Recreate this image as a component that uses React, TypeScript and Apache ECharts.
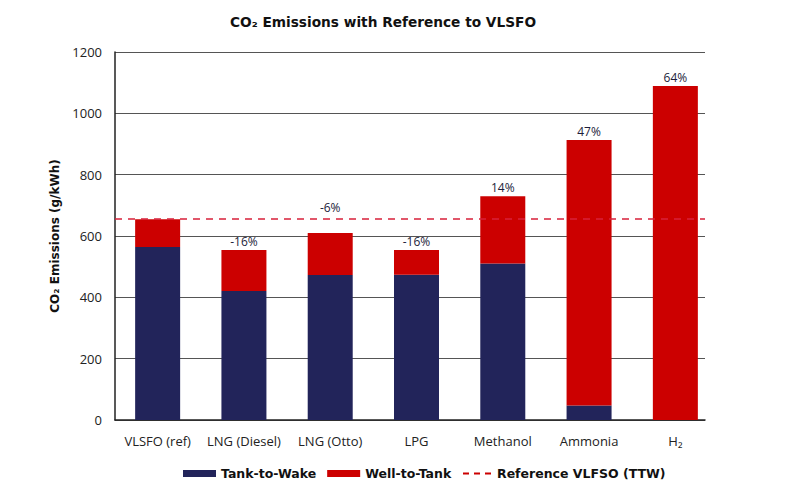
import React, { useEffect, useRef } from "react";
import * as echarts from "echarts";

const categories = ["VLSFO (ref)", "LNG (Diesel)", "LNG (Otto)", "LPG", "Methanol", "Ammonia", "H₂"];
const tankToWake = [564, 421, 473, 474, 510, 47, 0];
const wellToTank = [91, 133, 137, 80, 220, 866, 1089];
const changeLabels = ["", "-16%", "-6%", "-16%", "14%", "47%", "64%"];
const referenceTTW = 655;
const yTicks = { min: 0, max: 1200, interval: 200 };

const NAVY = "#22245a";
const RED = "#cc0000";
const FONT = "'Open Sans', 'Noto Sans', sans-serif";
const BOLD_FONT = "'DejaVu Sans', 'Open Sans', sans-serif";

export default function App() {
  const ref = useRef<HTMLDivElement>(null);
  useEffect(() => {
    if (!ref.current) return;
    const chart = echarts.init(ref.current, null, { renderer: "svg" });
    chart.setOption({
      animation: false,
      textStyle: { fontFamily: FONT },
      title: {
        text: "CO₂ Emissions with Reference to VLSFO",
        left: 378,
        top: 10,
        textAlign: "center",
        textStyle: { fontSize: 13.7, fontWeight: "bold", color: "#111", fontFamily: BOLD_FONT },
      },
      legend: [
        {
          data: ["Tank-to-Wake", "Well-to-Tank"],
          left: 178,
          top: 462,
          itemWidth: 33,
          itemHeight: 7,
          itemGap: 11,
          icon: "rect",
          textStyle: { fontSize: 12.5, fontWeight: "bold", color: "#111", fontFamily: BOLD_FONT },
        },
        {
          data: ["Reference VLFSO (TTW)"],
          left: 458,
          top: 462,
          itemWidth: 30,
          itemHeight: 2,
          icon: "path://M0,0H6V2H0Z M11,0H17V2H11Z M22,0H28V2H22Z",
          textStyle: { fontSize: 12.5, fontWeight: "bold", color: "#111", fontFamily: BOLD_FONT },
        },
      ],
      grid: [
        { left: 115, right: 80, top: 52, bottom: 72 },
        { left: 114.5, right: 66.5, top: 52, bottom: 72 },
      ],
      xAxis: [
        {
          type: "value",
          gridIndex: 0,
          min: 0,
          max: 1,
          axisLine: { show: true, lineStyle: { color: "#222", width: 1.5 } },
          axisTick: { show: false },
          axisLabel: { show: false },
          splitLine: { show: false },
        },
        {
          type: "category",
          gridIndex: 1,
          data: categories,
          axisLine: { show: false },
          axisTick: { show: false },
          axisLabel: { margin: 14, fontSize: 13, color: "#222", fontFamily: FONT, interval: 0 },
        },
      ],
      yAxis: [
        {
          type: "value",
          gridIndex: 0,
          ...yTicks,
          name: "CO₂ Emissions (g/kWh)",
          nameLocation: "middle",
          nameGap: 52,
          nameTextStyle: { fontSize: 12, fontWeight: "bold", color: "#111", fontFamily: BOLD_FONT },
          axisLine: { show: true, lineStyle: { color: "#222", width: 1.5 } },
          axisTick: { show: false },
          axisLabel: {
            margin: 13,
            fontSize: 13,
            color: "#222",
            fontFamily: FONT,
            formatter: (v: number) => String(v),
          },
          splitLine: { show: true, lineStyle: { color: "#555", width: 1 } },
        },
        {
          type: "value",
          gridIndex: 1,
          ...yTicks,
          show: false,
          splitLine: { show: false },
        },
      ],
      series: [
        {
          name: "Tank-to-Wake",
          type: "bar",
          xAxisIndex: 1,
          yAxisIndex: 1,
          stack: "total",
          barWidth: 45,
          data: tankToWake,
          itemStyle: { color: NAVY },
        },
        {
          name: "Well-to-Tank",
          type: "bar",
          xAxisIndex: 1,
          yAxisIndex: 1,
          stack: "total",
          barWidth: 45,
          data: wellToTank.map((v, i) => ({
            value: v,
            label:
              i === 2
                ? { show: true, position: "top", distance: 3, offset: [0, -16] }
                : { show: true, position: "top", distance: 3 },
          })),
          itemStyle: { color: RED },
          label: {
            show: true,
            position: "top",
            distance: 3,
            fontSize: 12,
            color: "#1d1d3a",
            fontFamily: FONT,
            formatter: (p: any) => changeLabels[p.dataIndex],
          },
        },
        {
          name: "Reference VLFSO (TTW)",
          type: "line",
          xAxisIndex: 0,
          yAxisIndex: 0,
          data: [],
          color: RED,
          z: 5,
          lineStyle: { color: RED, type: "dashed" },
          markLine: {
            silent: true,
            symbol: "none",
            label: { show: false },
            lineStyle: { color: "#d8203a", type: [7, 6], width: 1.5 },
            data: [{ yAxis: referenceTTW }],
          },
        },
      ],
    });
    return () => chart.dispose();
  }, []);
  return <div ref={ref} style={{ width: 785, height: 492, margin: -8 }} />;
}
